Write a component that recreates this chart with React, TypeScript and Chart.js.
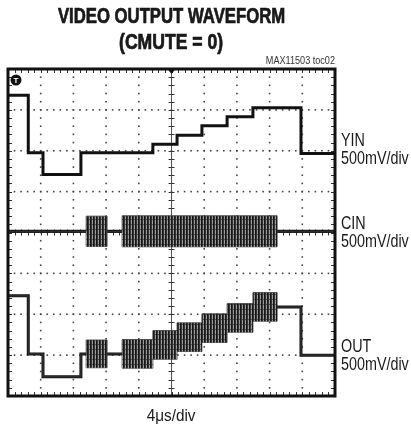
import React, { useEffect, useRef } from "react";
import { Chart, registerables } from "chart.js";

Chart.register(...registerables);

// ---- data (x in time divisions 0..10, y in vertical divisions 0..8) ----
const xDivisions = 10;
const yDivisions = 8;

const stepTimes = [0, 0.62, 1.07, 2.23, 4.43, 5.17, 5.93, 6.7, 7.49, 8.96, 10];
const yinLevels = [7.36, 5.95, 5.42, 5.95, 6.16, 6.38, 6.61, 6.83, 7.05, 5.93, 5.93];
const outLevels = [2.45, 1.03, 0.47, 1.03, 1.25, 1.44, 1.66, 1.91, 2.18, 1.0, 1.0];

const cinTimes = [0, 10];
const cinLevels = [4.03, 4.03];

const burstTimes = [0, 2.39, 3.03, 3.49, 8.23, 10];
const cinBurstAmp = [0, 0.37, 0, 0.38, 0, 0];
const outBurstAmp = [0, 0.34, 0, 0.35, 0, 0];

const rightLabels = [
  { name: "YIN", scale: "500mV/div", baseline: 147 },
  { name: "CIN", scale: "500mV/div", baseline: 230 },
  { name: "OUT", scale: "500mV/div", baseline: 353 },
];

// ---- helpers ----
function stepAt(times: number[], values: number[], t: number): number {
  let v = values[0];
  for (let i = 0; i < times.length; i++) {
    if (times[i] <= t + 1e-9) v = values[i];
  }
  return v;
}

function series(times: number[], values: number[]) {
  return times.map((t, i) => ({ x: t, y: values[i] }));
}

function envelope(
  lvlTimes: number[],
  lvls: number[],
  ampTimes: number[],
  amps: number[],
  sign: number
) {
  const all = Array.from(new Set([...lvlTimes, ...ampTimes])).sort((a, b) => a - b);
  return all.map((t) => ({
    x: t,
    y: stepAt(lvlTimes, lvls, t) + sign * stepAt(ampTimes, amps, t),
  }));
}

const FONT = "'Liberation Sans', Arial, Helvetica, sans-serif";

const graticulePlugin = {
  id: "scopeGraticule",
  beforeDatasetsDraw(chart: any) {
    const { ctx, chartArea: a, scales } = chart;
    const x = scales.x;
    const y = scales.y;
    ctx.save();
    ctx.fillStyle = "#444";
    for (let i = 1; i < xDivisions; i++) {
      if (i === xDivisions / 2) continue;
      const px = x.getPixelForValue(i);
      for (let j = 0; j <= yDivisions * 5; j++) {
        const py = y.getPixelForValue(j / 5);
        ctx.fillRect(px - 0.8, py - 0.8, 1.6, 1.6);
      }
    }
    for (let j = 1; j < yDivisions; j++) {
      if (j === yDivisions / 2) continue;
      const py = y.getPixelForValue(j);
      for (let i = 0; i <= xDivisions * 5; i++) {
        const px = x.getPixelForValue(i / 5);
        ctx.fillRect(px - 0.8, py - 0.8, 1.6, 1.6);
      }
    }
    const cx = x.getPixelForValue(xDivisions / 2);
    const cy = y.getPixelForValue(yDivisions / 2);
    ctx.strokeStyle = "#555";
    ctx.lineWidth = 1;
    ctx.beginPath();
    ctx.moveTo(cx, a.top);
    ctx.lineTo(cx, a.bottom);
    ctx.moveTo(a.left, cy);
    ctx.lineTo(a.right, cy);
    ctx.stroke();
    ctx.strokeStyle = "#333";
    ctx.beginPath();
    for (let j = 0; j <= yDivisions * 5; j++) {
      const py = Math.round(y.getPixelForValue(j / 5)) + 0.5;
      ctx.moveTo(cx - 3, py);
      ctx.lineTo(cx + 3, py);
      ctx.moveTo(a.left, py);
      ctx.lineTo(a.left + 4, py);
      ctx.moveTo(a.right - 4, py);
      ctx.lineTo(a.right, py);
    }
    for (let i = 0; i <= xDivisions * 5; i++) {
      const px = Math.round(x.getPixelForValue(i / 5)) + 0.5;
      ctx.moveTo(px, cy - 3);
      ctx.lineTo(px, cy + 3);
      ctx.moveTo(px, a.top);
      ctx.lineTo(px, a.top + 4);
      ctx.moveTo(px, a.bottom - 4);
      ctx.lineTo(px, a.bottom);
    }
    ctx.stroke();
    ctx.restore();
  },
  afterDatasetsDraw(chart: any) {
    const { ctx, chartArea: a, scales } = chart;
    ctx.save();
    ctx.strokeStyle = "#111";
    ctx.lineWidth = 3;
    ctx.strokeRect(a.left, a.top, a.right - a.left, a.bottom - a.top);
    const cx = scales.x.getPixelForValue(xDivisions / 2);
    ctx.fillStyle = "#111";
    ctx.beginPath();
    ctx.moveTo(cx - 4, a.top);
    ctx.lineTo(cx + 4, a.top);
    ctx.lineTo(cx, a.top + 5);
    ctx.closePath();
    ctx.fill();
    ctx.beginPath();
    ctx.arc(a.left + 8, a.top + 11, 5.5, 0, Math.PI * 2);
    ctx.fill();
    ctx.fillStyle = "#fff";
    ctx.font = "bold 8px " + FONT;
    ctx.textAlign = "center";
    ctx.textBaseline = "middle";
    ctx.fillText("T", a.left + 8, a.top + 11.5);
    ctx.restore();
  },
};

function makePattern(): CanvasPattern | string {
  const c = document.createElement("canvas");
  c.width = 3;
  c.height = 5;
  const g = c.getContext("2d");
  if (!g) return "#333";
  g.fillStyle = "#161616";
  g.fillRect(0, 0, 3, 5);
  g.fillStyle = "#333";
  g.fillRect(1, 0, 1, 5);
  g.fillStyle = "#9c9c9c";
  g.fillRect(2, 0, 1, 4);
  g.fillStyle = "#555";
  g.fillRect(2, 4, 1, 1);
  const p = g.createPattern(c, "repeat");
  return p || "#333";
}

export default function App() {
  const ref = useRef<HTMLCanvasElement | null>(null);

  useEffect(() => {
    if (!ref.current) return;
    const pattern = makePattern();
    const lineStyle = {
      stepped: true as const,
      borderColor: "#111",
      borderWidth: 3,
      pointRadius: 0,
      fill: false,
      order: 3,
    };
    const bandTop = {
      stepped: true as const,
      borderColor: "#333",
      borderWidth: 0.8,
      pointRadius: 0,
      fill: "+1",
      backgroundColor: pattern,
      order: 1,
    };
    const bandBottom = {
      stepped: true as const,
      borderColor: "#333",
      borderWidth: 0.8,
      pointRadius: 0,
      fill: false,
      order: 1,
    };
    const chart = new Chart(ref.current, {
      type: "line",
      data: {
        datasets: [
          { label: "YIN", data: series(stepTimes, yinLevels), ...lineStyle },
          { label: "CIN", data: series(cinTimes, cinLevels), ...lineStyle },
          { label: "OUT", data: series(stepTimes, outLevels), ...lineStyle },
          { label: "CIN+", data: envelope(cinTimes, cinLevels, burstTimes, cinBurstAmp, 1), ...bandTop },
          { label: "CIN-", data: envelope(cinTimes, cinLevels, burstTimes, cinBurstAmp, -1), ...bandBottom },
          { label: "OUT+", data: envelope(stepTimes, outLevels, burstTimes, outBurstAmp, 1), ...bandTop },
          { label: "OUT-", data: envelope(stepTimes, outLevels, burstTimes, outBurstAmp, -1), ...bandBottom },
        ] as any,
      },
      options: {
        animation: false,
        responsive: false,
        devicePixelRatio: 1,
        layout: { padding: { left: 8, top: 69, right: 76, bottom: 33 } },
        scales: {
          x: { type: "linear", min: 0, max: xDivisions, display: false },
          y: { type: "linear", min: 0, max: yDivisions, display: false },
        },
        plugins: {
          legend: { display: false },
          tooltip: { enabled: false },
          title: { display: false },
        },
      } as any,
      plugins: [graticulePlugin],
    });
    return () => chart.destroy();
  }, []);

  const textBase: React.CSSProperties = {
    position: "absolute",
    whiteSpace: "nowrap",
    fontFamily: FONT,
    color: "#1a1a1a",
  };

  const centered = (text: string, baseline: number, fs: number, sx: number, bold: boolean) => (
    <div
      style={{
        ...textBase,
        left: 0,
        width: 343,
        top: baseline - 0.8465 * fs,
        fontSize: fs,
        lineHeight: fs + "px",
        textAlign: "center",
        fontWeight: bold ? 700 : 400,
      }}
    >
      <span
        style={{
          display: "inline-block",
          transform: `scaleX(${sx})`,
          transformOrigin: "center",
          WebkitTextStroke: bold ? "0.7px #111" : undefined,
        }}
      >
        {text}
      </span>
    </div>
  );

  return (
    <div style={{ position: "absolute", left: 0, top: 0, width: 411, height: 429, background: "#fff" }}>
      <canvas ref={ref} width={411} height={429} style={{ position: "absolute", left: 0, top: 0 }} />
      {centered("VIDEO OUTPUT WAVEFORM", 24, 22, 0.76, true)}
      {centered("(CMUTE = 0)", 50, 22, 0.8, true)}
      {centered("4\u03bcs/div", 421.5, 17, 0.9, false)}
      <div
        style={{
          ...textBase,
          left: 0,
          width: 335,
          top: 64.5 - 0.8465 * 10,
          fontSize: 10,
          lineHeight: "10px",
          textAlign: "right",
          color: "#333",
        }}
      >
        <span style={{ display: "inline-block", transform: "scaleX(0.91)", transformOrigin: "right" }}>
          MAX11503 toc02
        </span>
      </div>
      {rightLabels.map((l) => (
        <React.Fragment key={l.name}>
          {[l.name, l.scale].map((t, k) => (
            <div
              key={t + k}
              style={{
                ...textBase,
                left: 341,
                top: l.baseline + k * 18 - 0.8465 * 17.5,
                fontSize: 17.5,
                lineHeight: "17.5px",
              }}
            >
              <span style={{ display: "inline-block", transform: "scaleX(0.82)", transformOrigin: "left" }}>
                {t}
              </span>
            </div>
          ))}
        </React.Fragment>
      ))}
    </div>
  );
}
